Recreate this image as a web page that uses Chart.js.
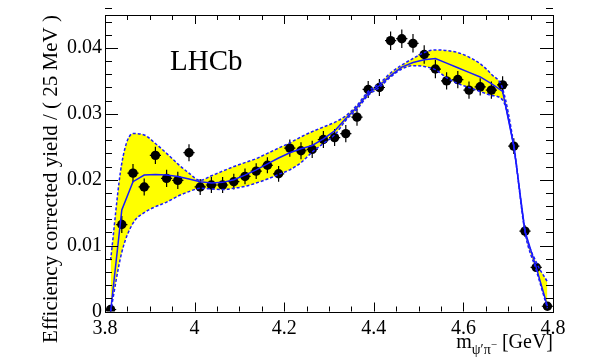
<!DOCTYPE html>
<html>
<head>
<meta charset="utf-8">
<script src="https://cdn.jsdelivr.net/npm/chart.js@4.4.1/dist/chart.umd.min.js"></script>
<style>
  html, body { margin: 0; padding: 0; background: #ffffff; }
  #wrap { width: 600px; height: 360px; }
</style>
</head>
<body>
<div id="wrap"><canvas id="c" width="600" height="360"></canvas></div>
<script>
// ---- data ----
const binCenters = [3.8125, 3.8375, 3.8625, 3.8875, 3.9125, 3.9375, 3.9625, 3.9875,
  4.0125, 4.0375, 4.0625, 4.0875, 4.1125, 4.1375, 4.1625, 4.1875,
  4.2125, 4.2375, 4.2625, 4.2875, 4.3125, 4.3375, 4.3625, 4.3875,
  4.4125, 4.4375, 4.4625, 4.4875, 4.5125, 4.5375, 4.5625, 4.5875,
  4.6125, 4.6375, 4.6625, 4.6875, 4.7125, 4.7375, 4.7625, 4.7875];
const binHalfWidth = 0.0125;
const yieldValues = [0.0003, 0.0132, 0.0210, 0.0189, 0.0237, 0.0202, 0.0199, 0.0241,
  0.0189, 0.0192, 0.0192, 0.0197, 0.0205, 0.0213, 0.0222, 0.0209,
  0.0248, 0.0244, 0.0246, 0.0261, 0.0264, 0.0270, 0.0295, 0.0337,
  0.0340, 0.0411, 0.0414, 0.0407, 0.0390, 0.0368, 0.0350, 0.0352,
  0.0336, 0.0341, 0.0336, 0.0344, 0.0251, 0.0122, 0.0067, 0.0008];
const yieldErrors = [0.0003, 0.0013, 0.0014, 0.0013, 0.0013, 0.0013, 0.0013, 0.0013,
  0.0012, 0.0012, 0.0012, 0.0012, 0.0012, 0.0012, 0.0012, 0.0012,
  0.0013, 0.0013, 0.0013, 0.0013, 0.0013, 0.0013, 0.0013, 0.0013,
  0.0013, 0.0014, 0.0014, 0.0014, 0.0014, 0.0014, 0.0013, 0.0013,
  0.0013, 0.0013, 0.0013, 0.0013, 0.0012, 0.0009, 0.0007, 0.0004];
const fitValues = [0.0000, 0.0154, 0.0197, 0.0207, 0.0208, 0.0207, 0.0205, 0.0201,
  0.0197, 0.0195, 0.0196, 0.0200, 0.0207, 0.0215, 0.0224, 0.0233,
  0.0241, 0.0247, 0.0252, 0.0262, 0.0274, 0.0293, 0.0310, 0.0331,
  0.0343, 0.0358, 0.0371, 0.0378, 0.0382, 0.0384, 0.0377, 0.0370,
  0.0363, 0.0356, 0.0346, 0.0334, 0.0251, 0.0122, 0.0067, 0.0008];
const bandUpper = [0.0078, 0.0225, 0.0270, 0.0268, 0.0255, 0.0240, 0.0224, 0.0210,
  0.0199, 0.0206, 0.0213, 0.0220, 0.0226, 0.0232, 0.0240, 0.0248,
  0.0256, 0.0265, 0.0273, 0.0280, 0.0287, 0.0297, 0.0313, 0.0334,
  0.0346, 0.0362, 0.0374, 0.0384, 0.0393, 0.0397, 0.0396, 0.0393,
  0.0386, 0.0376, 0.0360, 0.0338, 0.0253, 0.0124, 0.0075, 0.0045];
const bandLower = [0.0000, 0.0090, 0.0134, 0.0150, 0.0159, 0.0166, 0.0175, 0.0182,
  0.0187, 0.0186, 0.0185, 0.0187, 0.0190, 0.0195, 0.0201, 0.0208,
  0.0215, 0.0226, 0.0242, 0.0255, 0.0268, 0.0290, 0.0307, 0.0328,
  0.0340, 0.0356, 0.0368, 0.0373, 0.0372, 0.0367, 0.0355, 0.0346,
  0.0340, 0.0334, 0.0328, 0.0321, 0.0249, 0.0120, 0.0063, 0.0005];
const xTickValues = [3.8, 4.0, 4.2, 4.4, 4.6, 4.8];
const yTickValues = [0, 0.01, 0.02, 0.03, 0.04];
const xRange = [3.8, 4.8];
const yRange = [0, 0.045];
const xMinorStep = 0.05;
const yMinorStep = 0.002;
const yTitle = 'Efficiency corrected yield / ( 25 MeV )';
const experimentLabel = 'LHCb';

// ---- styles ----
const BLUE = 'rgb(25,25,255)';
const YELLOW = 'rgb(255,255,0)';
const SERIF = '"Liberation Serif", serif';
Chart.defaults.font.family = SERIF;
Chart.defaults.color = '#000';

const toXY = (ys) => binCenters.map((x, i) => ({ x: x, y: ys[i] }));

const errorBarPlugin = {
  id: 'errorBars',
  beforeDatasetDraw(chart, args) {
    if (chart.data.datasets[args.index].label !== 'data') return;
    const xs = chart.scales.x, ys = chart.scales.y, ctx = chart.ctx;
    ctx.save();
    ctx.strokeStyle = '#000';
    ctx.lineWidth = 1.2;
    binCenters.forEach((xv, i) => {
      const px = xs.getPixelForValue(xv);
      const py = ys.getPixelForValue(yieldValues[i]);
      const pLo = ys.getPixelForValue(Math.max(yRange[0], yieldValues[i] - yieldErrors[i]));
      const pHi = ys.getPixelForValue(yieldValues[i] + yieldErrors[i]);
      const pL = xs.getPixelForValue(xv - binHalfWidth);
      const pR = xs.getPixelForValue(xv + binHalfWidth);
      ctx.beginPath();
      ctx.moveTo(px, pLo); ctx.lineTo(px, pHi);
      ctx.moveTo(pL, py); ctx.lineTo(pR, py);
      ctx.stroke();
    });
    ctx.restore();
  }
};

const framePlugin = {
  id: 'frame',
  afterDraw(chart) {
    const ctx = chart.ctx, a = chart.chartArea;
    const xs = chart.scales.x, ys = chart.scales.y;
    ctx.save();
    ctx.strokeStyle = '#000';
    ctx.lineWidth = 1;
    ctx.strokeRect(Math.round(a.left) + 0.5, Math.round(a.top) + 0.5,
      Math.round(a.right - a.left), Math.round(a.bottom - a.top));
    ctx.beginPath();
    const nx = Math.round((xRange[1] - xRange[0]) / xMinorStep);
    for (let k = 0; k <= nx; k++) {
      const v = xRange[0] + k * xMinorStep;
      const major = xTickValues.some(t => Math.abs(t - v) < 1e-6);
      const len = major ? 9 : 5;
      const px = Math.round(xs.getPixelForValue(v)) + 0.5;
      ctx.moveTo(px, a.bottom); ctx.lineTo(px, a.bottom - len);
      ctx.moveTo(px, a.top); ctx.lineTo(px, a.top + len);
    }
    const ny = Math.round((yRange[1] - yRange[0]) / yMinorStep);
    for (let k = 0; k <= ny; k++) {
      const v = yRange[0] + k * yMinorStep;
      const major = yTickValues.some(t => Math.abs(t - v) < 1e-9);
      const len = major ? 13 : 7;
      const py = Math.round(ys.getPixelForValue(v)) + 0.5;
      ctx.moveTo(a.left, py); ctx.lineTo(a.left + len, py);
      ctx.moveTo(a.right, py); ctx.lineTo(a.right - len, py);
    }
    ctx.stroke();

    ctx.fillStyle = '#000';
    ctx.textBaseline = 'alphabetic';
    ctx.font = '29px ' + SERIF;
    ctx.textAlign = 'left';
    ctx.fillText(experimentLabel, a.left + 65, a.top + 55);

    ctx.save();
    ctx.font = '21px ' + SERIF;
    ctx.translate(57, a.top);
    ctx.rotate(-Math.PI / 2);
    ctx.textAlign = 'right';
    ctx.fillText(yTitle, 0, 0);
    ctx.restore();

    const parts = [
      { t: 'm', f: '20px ', dy: 0 },
      { t: '\u03C8\u2032\u03C0', f: '14px ', dy: 6 },
      { t: '\u2212', f: '11px ', dy: 0 },
      { t: ' [GeV]', f: '20px ', dy: 0 }
    ];
    let total = 0;
    parts.forEach(p => { ctx.font = p.f + SERIF; p.w = ctx.measureText(p.t).width; total += p.w; });
    let x = a.right - total;
    const base = 348;
    ctx.textAlign = 'left';
    parts.forEach(p => {
      ctx.font = p.f + SERIF;
      ctx.fillText(p.t, x, base + p.dy);
      x += p.w;
    });
    ctx.restore();
  }
};

const ctx = document.getElementById('c').getContext('2d');
new Chart(ctx, {
  type: 'scatter',
  data: {
    datasets: [
      {
        label: 'bandUpper', type: 'line', data: toXY(bandUpper),
        borderColor: BLUE, borderWidth: 1.5, borderDash: [3, 2],
        backgroundColor: YELLOW, fill: '+1', pointRadius: 0,
        cubicInterpolationMode: 'monotone', order: 2
      },
      {
        label: 'bandLower', type: 'line', data: toXY(bandLower),
        borderColor: BLUE, borderWidth: 1.5, borderDash: [3, 2],
        fill: false, pointRadius: 0,
        cubicInterpolationMode: 'monotone', order: 2
      },
      {
        label: 'fit', type: 'line', data: toXY(fitValues),
        borderColor: BLUE, borderWidth: 1.5, fill: false, pointRadius: 0,
        tension: 0, order: 1
      },
      {
        label: 'data', type: 'scatter', data: toXY(yieldValues),
        pointRadius: 4.7, pointBackgroundColor: '#000', pointBorderWidth: 0,
        pointBorderColor: '#000', showLine: false, order: 3
      }
    ]
  },
  options: {
    responsive: false,
    animation: false,
    devicePixelRatio: 1,
    layout: { padding: { left: 0, right: 47, top: 15, bottom: 0 } },
    plugins: {
      legend: { display: false },
      tooltip: { enabled: false },
      title: { display: false },
      filler: { drawTime: 'beforeDatasetsDraw' }
    },
    scales: {
      x: {
        type: 'linear', min: xRange[0], max: xRange[1],
        grid: { display: false, drawTicks: false },
        border: { display: false },
        afterBuildTicks: (s) => { s.ticks = xTickValues.map(v => ({ value: v })); },
        afterFit: (s) => { s.height = 48.5; },
        ticks: {
          padding: 5, color: '#000', maxRotation: 0, autoSkip: false,
          font: { family: SERIF, size: 20 },
          callback: (v) => String(Number(v.toFixed(1)))
        }
      },
      y: {
        type: 'linear', min: yRange[0], max: yRange[1],
        grid: { display: false, drawTicks: false },
        border: { display: false },
        afterBuildTicks: (s) => { s.ticks = yTickValues.map(v => ({ value: v })); },
        afterFit: (s) => { s.width = 105; },
        ticks: {
          padding: 3, color: '#000', autoSkip: false,
          font: { family: SERIF, size: 20 },
          callback: (v) => String(Number(v.toFixed(3)))
        }
      }
    }
  },
  plugins: [errorBarPlugin, framePlugin]
});
</script>
</body>
</html>
